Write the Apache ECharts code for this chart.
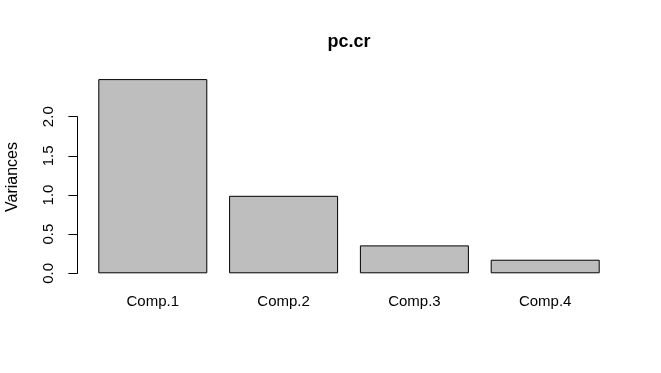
<!DOCTYPE html>
<html>
<head>
<meta charset="utf-8">
<script src="https://cdn.jsdelivr.net/npm/echarts@6/dist/echarts.min.js"></script>
<style>html,body{margin:0;padding:0;background:#fff}#c{width:661px;height:373px}</style>
</head>
<body>
<div id="c"></div>
<script>
const categories = ['Comp.1', 'Comp.2', 'Comp.3', 'Comp.4'];
const variances = [2.4802, 0.9898, 0.3566, 0.1734];
const yTicks = [0, 0.5, 1, 1.5, 2];
const titleText = 'pc.cr';
const yLabel = 'Variances';

const chart = echarts.init(document.getElementById('c'), null, {renderer: 'canvas'});
const font = 'Liberation Sans, Arial, sans-serif';
chart.setOption({
  backgroundColor: '#ffffff',
  animation: false,
  grid: {left: 87.4, right: 50.4, top: 116.7, bottom: 99.7},
  xAxis: {
    type: 'category',
    data: categories,
    boundaryGap: true,
    axisLine: {show: false},
    axisTick: {show: false},
    axisLabel: {fontFamily: font, fontSize: 15, color: '#000', margin: 21}
  },
  yAxis: {
    type: 'value',
    min: yTicks[0],
    max: yTicks[yTicks.length - 1],
    interval: 0.5,
    offset: 10,
    splitLine: {show: false},
    axisLine: {show: true, lineStyle: {color: '#000', width: 1}},
    axisTick: {show: true, length: 9, lineStyle: {color: '#000', width: 1}},
    axisLabel: {
      fontFamily: font, fontSize: 15, color: '#000', margin: 21, rotate: 90,
      formatter: v => v.toFixed(1)
    }
  },
  graphic: [{
    type: 'text',
    x: 349, y: 42.5,
    style: {text: titleText, font: 'bold 18px ' + font, fill: '#000', align: 'center', verticalAlign: 'middle'}
  }, {
    type: 'text',
    x: 12.5, y: 177,
    rotation: Math.PI / 2,
    style: {text: yLabel, font: '16px ' + font, fill: '#000', align: 'center', verticalAlign: 'middle'}
  }],
  series: [{
    type: 'bar',
    data: variances,
    clip: false,
    barCategoryGap: '16.67%',
    itemStyle: {color: '#bebebe', borderColor: '#000', borderWidth: 1}
  }]
});
</script>
</body>
</html>
